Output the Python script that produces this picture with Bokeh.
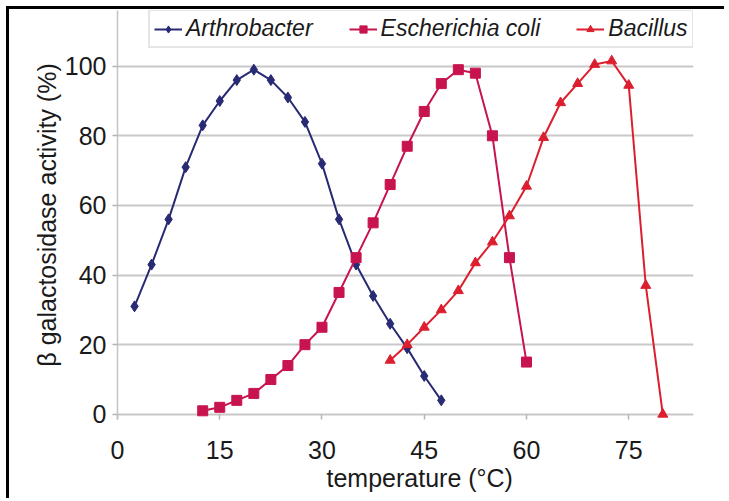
from bokeh.plotting import figure
from bokeh.models import Range1d, FixedTicker, Legend, LegendItem, Title
from bokeh.embed import file_html
from bokeh.resources import INLINE

# ---- data ----
arthro_t = [2.5, 5, 7.5, 10, 12.5, 15, 17.5, 20, 22.5, 25, 27.5, 30, 32.5, 35, 37.5, 40, 42.5, 45, 47.5]
arthro_v = [31, 43, 56, 71, 83, 90, 96, 99, 96, 91, 84, 72, 56, 43, 34, 26, 19, 11, 4]

ecoli_t = [12.5, 15, 17.5, 20, 22.5, 25, 27.5, 30, 32.5, 35, 37.5, 40, 42.5, 45, 47.5, 50, 52.5, 55, 57.5, 60]
ecoli_v = [1, 2, 4, 6, 10, 14, 20, 25, 35, 45, 55, 66, 77, 87, 95, 99, 98, 80, 45, 15]

bac_t = [40, 42.5, 45, 47.5, 50, 52.5, 55, 57.5, 60, 62.5, 65, 67.5, 70, 72.5, 75, 77.5, 80]
bac_v = [15.5, 20, 25, 30, 35.5, 43.5, 49.5, 57, 65.5, 79.5, 89.5, 95, 100.5, 101.5, 94.5, 37, 0]

x_ticks = [0, 15, 30, 45, 60, 75]
y_ticks = [0, 20, 40, 60, 80, 100]

names = ["Arthrobacter", "Escherichia coli", "Bacillus"]
colors = ["#282b74", "#c8144e", "#dc1f2f"]
markers = ["diamond", "square", "triangle"]
msizes = [11, 10, 10]

x_title = "temperature (\u00b0C)"
y_title = "\u03b2 galactosidase activity (%)"

p = figure(width=718, height=492, output_backend="svg", toolbar_location=None,
           x_range=Range1d(0, 84.5), y_range=Range1d(-1.5, 116),
           min_border_left=108, min_border_right=34, min_border_top=1, min_border_bottom=82)
p.outline_line_color = None
p.background_fill_color = "white"
p.border_fill_color = "white"
p.styles = {"margin-left": "6px", "margin-top": "6px",
            "border-left": "3px solid black", "border-top": "3px solid black"}

font = "Liberation Sans"
txt = "#1a1a1a"

p.xaxis.ticker = FixedTicker(ticks=x_ticks)
p.yaxis.ticker = FixedTicker(ticks=y_ticks)
p.xaxis.axis_line_color = None
p.xaxis.major_tick_in = 5
p.xaxis.major_tick_out = 0
p.xaxis.major_tick_line_color = "#b4b4b4"
p.xaxis.major_tick_line_width = 1.5
p.xaxis.minor_tick_line_color = None
p.xaxis.major_label_standoff = 21

p.yaxis.axis_line_color = "#c4c4c4"
p.yaxis.axis_line_width = 1.5
p.yaxis.major_tick_in = 0
p.yaxis.major_tick_out = 5
p.yaxis.major_tick_line_color = "#b4b4b4"
p.yaxis.major_tick_line_width = 1.5
p.yaxis.minor_tick_line_color = None
p.yaxis.major_label_standoff = 6
p.yaxis.axis_label = y_title
p.yaxis.axis_label_standoff = 1

for ax in (p.xaxis, p.yaxis):
    ax.major_label_text_font = font
    ax.major_label_text_font_size = "25px"
    ax.major_label_text_color = txt
    ax.axis_label_text_font = font
    ax.axis_label_text_font_size = "25px"
    ax.axis_label_text_font_style = "normal"
    ax.axis_label_text_color = txt

xt = Title(text=x_title, align="left", offset=209,
           text_font=font, text_font_size="25px", text_font_style="normal", text_color=txt)
if "standoff" in Title.properties():
    xt.standoff = 0
p.add_layout(xt, "below")

p.xgrid.grid_line_color = None
p.ygrid.grid_line_color = "#c8c8c8"
p.ygrid.grid_line_width = 2

items = []
for t, v, name, c, m, s in zip([arthro_t, ecoli_t, bac_t], [arthro_v, ecoli_v, bac_v],
                               names, colors, markers, msizes):
    ln = p.line(t, v, line_color=c, line_width=2)
    sc = p.scatter(t, v, marker=m, size=s, fill_color=c, line_color=c)
    items.append(LegendItem(label=name, renderers=[ln, sc]))

legend = Legend(items=items, orientation="horizontal", location=(31, 371))
legend.label_text_font = font
legend.label_text_font_size = "23px"
legend.label_text_font_style = "italic"
legend.label_text_color = txt
legend.glyph_width = 28
legend.glyph_height = 18
legend.label_standoff = 4
legend.spacing = 36
legend.padding = 4
legend.margin = 0
legend.border_line_color = "#cccccc"
legend.border_line_width = 2
legend.background_fill_color = "white"
legend.background_fill_alpha = 1
p.add_layout(legend, "center")

open("out.html", "w").write(file_html(p, INLINE))
